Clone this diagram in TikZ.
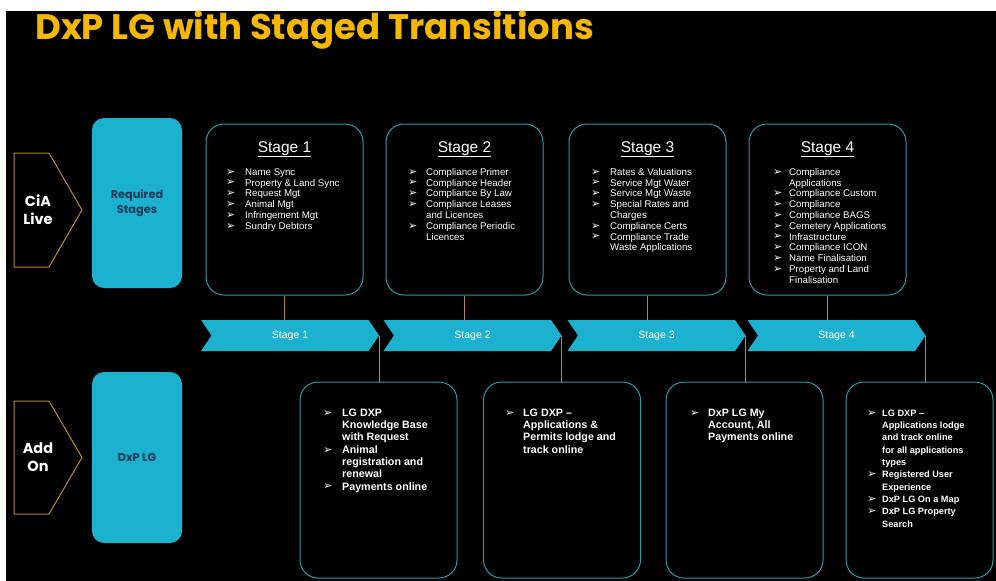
\documentclass[tikz,border=0pt]{standalone}
\usepackage{fontspec}
\setmainfont{Liberation Sans}
\newfontfamily\popfont{Poppins}
\newfontfamily\symfont{DejaVu Sans}
\usetikzlibrary{positioning,shapes.symbols}
\definecolor{dxgold}{HTML}{F5B800}
\definecolor{dxline}{HTML}{B98A2E}
\definecolor{dxcyan}{HTML}{1CB1CF}
\definecolor{dxteal}{HTML}{2A9BA6}
\definecolor{dxnavy}{HTML}{173A57}
\newcommand{\blt}{\raisebox{0.2pt}{\symfont\fontsize{11}{11}\selectfont ➢}}

\begin{document}
\begin{tikzpicture}[x=1pt,y=-1pt,
    tagline/.style={draw=dxline,line width=1pt},
    taglabel/.style={text=white,font=\popfont\bfseries\fontsize{14.5}{18}\selectfont,align=center},
    sidebox/.style={fill=dxcyan,rounded corners=12pt,minimum width=90pt,minimum height=170pt,inner sep=0pt,text=dxnavy,font=\popfont\bfseries\fontsize{11.3}{15}\selectfont,align=center},
    stagebox/.style={draw=dxteal,line width=1pt,rounded corners=18pt,minimum width=157pt,minimum height=171pt,inner sep=0pt},
    addbox/.style={stagebox,minimum height=196pt},
    head/.style={text=white,inner sep=0pt,font=\fontsize{15.5}{17}\selectfont},
    chev/.style={signal,signal to=east,signal from=west,fill=dxcyan,minimum width=178pt,minimum height=31pt,inner sep=0pt,signal pointer angle=112,text=white,font=\fontsize{10.5}{12}\selectfont},
    link/.style={dxline,line width=0.7pt},
    toplist/.style={anchor=north west,inner sep=0pt,text=white,font=\fontsize{9.7}{10.8}\selectfont},
    botlist/.style={anchor=north west,inner sep=0pt,text=white,font=\bfseries\fontsize{10.7}{12.3}\selectfont}]
  \useasboundingbox (0,0) rectangle (996,581);
  \fill[white] (0,0) rectangle (996,581);
  \fill[black] (6,11) rectangle (996,581);

  % title
  \node[anchor=base west,inner sep=0pt,text=dxgold,font=\popfont\bfseries\fontsize{35.5}{36}\selectfont] (title) at (35,39) {DxP LG with Staged Transitions};

  % left column
  \draw[tagline] (14,153) -- (49,153) -- (82,210) -- (49,267) -- (14,267) -- cycle;
  \node[taglabel] (cialbl) at (38,210) {CiA\\Live};
  \node[sidebox] (req) at (137,203) {Required\\Stages};
  \draw[tagline] (14,401) -- (49,401) -- (82,457.5) -- (49,514) -- (14,514) -- cycle;
  \node[taglabel] (addlbl) at (38,457.5) {Add\\On};
  \node[sidebox,minimum height=171pt] (dxp) at (137,457.5) {DxP LG};

  % stage boxes
  \foreach \i/\x in {1/284.5,2/464.5,3/647.5,4/827.5}{
    \node[stagebox] (s\i) at (\x,209.5) {};
    \node[head,below=17.5pt of s\i.north] (h\i) {\underline{Stage \i}};
  }
  \node[toplist] (l1) at (226,167.5) {\begin{tabular}{@{}p{19pt}@{}l@{}}
    \blt & Name Sync\\ \blt & Property \& Land Sync\\ \blt & Request Mgt\\
    \blt & Animal Mgt\\ \blt & Infringement Mgt\\ \blt & Sundry Debtors
  \end{tabular}};
  \node[toplist] (l2) at (408,167.5) {\begin{tabular}{@{}p{18pt}@{}l@{}}
    \blt & Compliance Primer\\ \blt & Compliance Header\\ \blt & Compliance By Law\\
    \blt & Compliance Leases\\ & and Licences\\ \blt & Compliance Periodic\\ & Licences
  \end{tabular}};
  \node[toplist] (l3) at (591,167.5) {\begin{tabular}{@{}p{19pt}@{}l@{}}
    \blt & Rates \& Valuations\\ \blt & Service Mgt Water\\ \blt & Service Mgt Waste\\
    \blt & Special Rates and\\ & Charges\\ \blt & Compliance Certs\\
    \blt & Compliance Trade\\ & Waste Applications
  \end{tabular}};
  \node[toplist] (l4) at (773,167.5) {\begin{tabular}{@{}p{16pt}@{}l@{}}
    \blt & Compliance\\ & Applications\\ \blt & Compliance Custom\\ \blt & Compliance\\
    \blt & Compliance BAGS\\ \blt & Cemetery Applications\\ \blt & Infrastructure\\
    \blt & Compliance ICON\\ \blt & Name Finalisation\\ \blt & Property and Land\\ & Finalisation
  \end{tabular}};

  % chevron bar
  \foreach \i/\x in {1/290,2/472.5,3/656.5,4/836.5}
    \node[chev] (c\i) at (\x,335.5) {Stage \i};

  % add-on boxes
  \foreach \i/\x in {1/378.5,2/562,3/744.5}
    \node[addbox] (b\i) at (\x,480) {};
  \node[addbox,minimum width=147pt] (b4) at (919.5,480) {};
  \node[botlist] (m1) at (323,407.5) {\begin{tabular}{@{}p{19pt}@{}l@{}}
    \blt & LG DXP\\ & Knowledge Base\\ & with Request\\ \blt & Animal\\
    & registration and\\ & renewal\\ \blt & Payments online
  \end{tabular}};
  \node[botlist] (m2) at (505,407.5) {\begin{tabular}{@{}p{18pt}@{}l@{}}
    \blt & LG DXP --\\ & Applications \&\\ & Permits lodge and\\ & track online
  \end{tabular}};
  \node[botlist] (m3) at (690,407.5) {\begin{tabular}{@{}p{18pt}@{}l@{}}
    \blt & DxP LG My\\ & Account, All\\ & Payments online
  \end{tabular}};
  \node[botlist,font=\bfseries\fontsize{9.2}{12.3}\selectfont] (m4) at (867,407.5) {\begin{tabular}{@{}p{15pt}@{}l@{}}
    \blt & LG DXP --\\ & Applications lodge\\ & and track online\\ & for all applications\\ & types\\
    \blt & Registered User\\ & Experience\\ \blt & DxP LG On a Map\\ \blt & DxP LG Property\\ & Search
  \end{tabular}};

  % connectors
  \foreach \i in {1,...,4}{
    \draw[link] (s\i.south) -- (s\i.south |- c\i.north);
    \draw[link] (c\i.east) -- (c\i.east |- b\i.north);
  }
\end{tikzpicture}
\end{document}
